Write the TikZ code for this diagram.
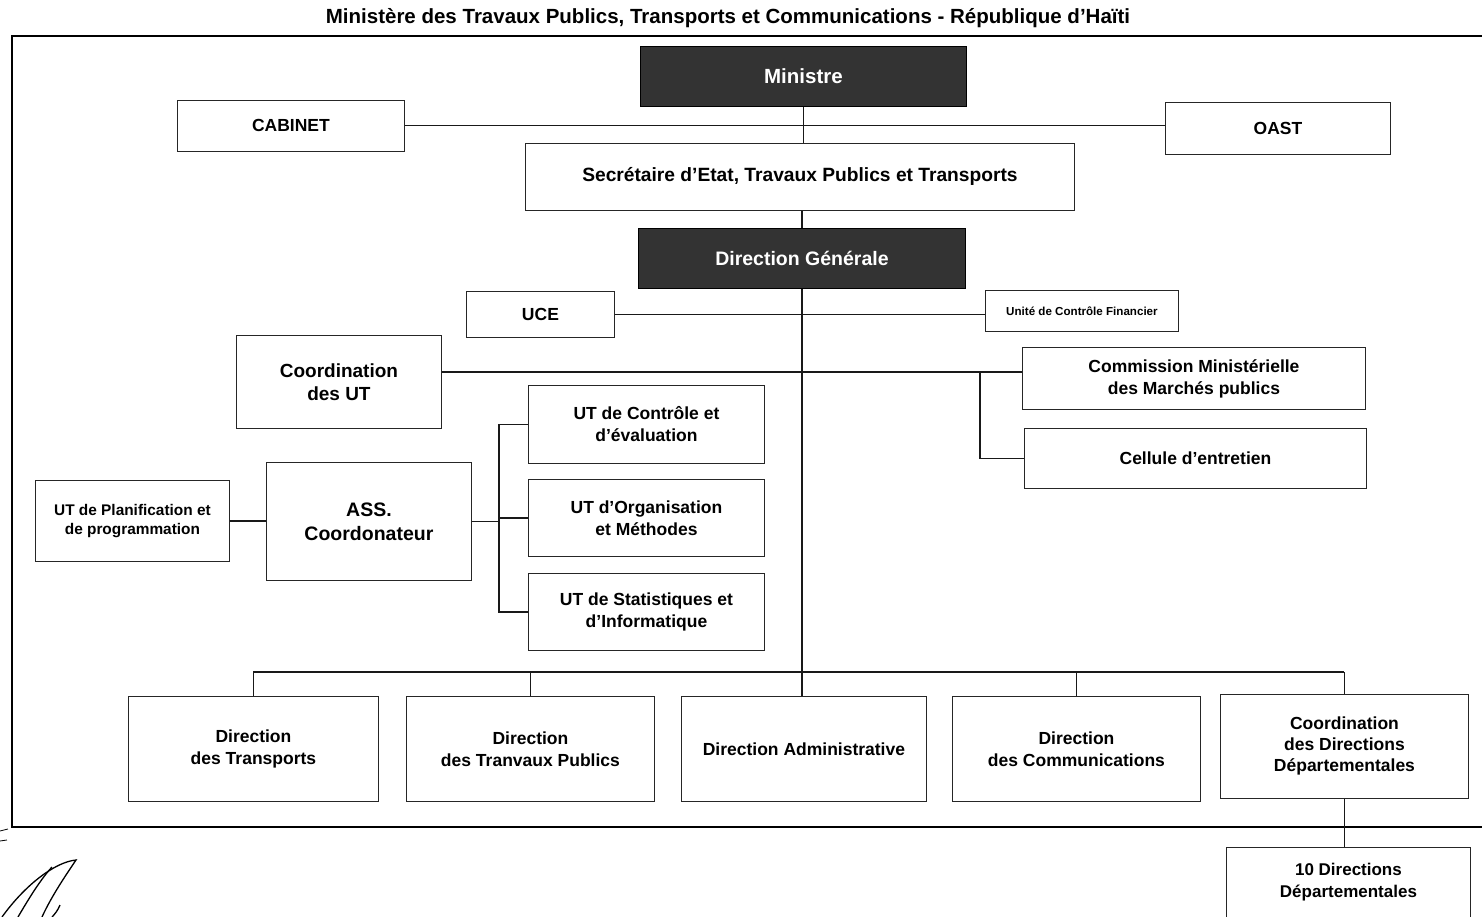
\documentclass[tikz,border=0pt]{standalone}
\usepackage{fontspec}
\setmainfont{Liberation Sans}
\begin{document}
\begin{tikzpicture}[x=1pt,y=-1pt,
  box/.style={draw=black!85, line width=0.9pt, inner sep=0pt, align=center, anchor=north west,
    font=\bfseries\fontsize{17.5}{22}\selectfont},
  dark/.style={box, fill=black!80, draw=black, text=white, font=\bfseries\fontsize{20}{22}\selectfont},
  ln/.style={draw=black!90, line width=1.1pt}]
\useasboundingbox (0,0) rectangle (1482,917);
% title and frame
\node[font=\bfseries\fontsize{20.5}{24}\selectfont] (title) at (728,18) {Ministère des Travaux Publics, Transports et Communications - République d’Haïti};
\draw[line width=1.6pt] (1495,36) -- (12,36) -- (12,827) -- (1495,827);
% boxes
\node[dark, minimum width=326, minimum height=60, font=\bfseries\fontsize{20.5}{22}\selectfont] (mini) at (640,46) {Ministre};
\node[box, minimum width=227, minimum height=51] (cab) at (177,100) {CABINET};
\node[box, minimum width=225, minimum height=52] (oast) at (1165,102) {OAST};
\node[box, minimum width=549, minimum height=67, font=\bfseries\fontsize{19.2}{22}\selectfont] (sec) at (525,143) {Secrétaire d’Etat, Travaux Publics et Transports};
\node[dark, minimum width=327, minimum height=60, font=\bfseries\fontsize{19.5}{22}\selectfont] (dg) at (638,228) {Direction Générale};
\node[box, minimum width=148, minimum height=46] (uce) at (466,291) {UCE};
\node[box, minimum width=193, minimum height=41, font=\bfseries\fontsize{11.6}{13}\selectfont] (ucf) at (985,290) {Unité de Contrôle Financier};
\node[box, minimum width=205, minimum height=93, font=\bfseries\fontsize{19}{23}\selectfont] (cut) at (236,335) {Coordination\\des UT};
\node[box, minimum width=343, minimum height=62] (cmm) at (1022,347) {Commission Ministérielle\\des Marchés publics};
\node[box, minimum width=342, minimum height=60] (cel) at (1024,428) {Cellule d’entretien};
\node[box, minimum width=236, minimum height=78] (utc) at (528,385) {UT de Contrôle et\\d’évaluation};
\node[box, minimum width=236, minimum height=77] (uto) at (528,479) {UT d’Organisation\\et Méthodes};
\node[box, minimum width=236, minimum height=77] (uts) at (528,573) {UT de Statistiques et\\d’Informatique};
\node[box, minimum width=205, minimum height=118, font=\bfseries\fontsize{19.5}{24}\selectfont] (ass) at (266,462) {ASS.\\Coordonateur};
\node[box, minimum width=194, minimum height=81, font=\bfseries\fontsize{15.4}{19}\selectfont] (utp) at (35,480) {UT de Planification et\\de programmation};
\node[box, minimum width=250, minimum height=105] (dt) at (128,696) {Direction\\des Transports};
\node[box, minimum width=248, minimum height=105] (dtp) at (406,696) {Direction\\des Tranvaux Publics};
\node[box, minimum width=245, minimum height=105] (da) at (681,696) {Direction Administrative};
\node[box, minimum width=248, minimum height=105] (dc) at (952,696) {Direction\\des Communications};
\node[box, minimum width=248, minimum height=104, font=\bfseries\fontsize{17.5}{21}\selectfont] (cdd) at (1220,694) {Coordination\\des Directions\\Départementales};
\node[box, minimum width=244, minimum height=70, font=\bfseries\fontsize{17}{22}\selectfont] (d10) at (1226,847) {10 Directions\\Départementales};
% connectors
\coordinate (h1) at (0,372);
\coordinate (br) at (980,372);
\coordinate (bus) at (499,0);
\coordinate (bb) at (0,672);
\draw[ln] (mini.south) -- (mini.south |- sec.north);
\draw[ln] (cab.east) -- (cab.east -| oast.west);
\draw[ln] (dg.north) -- (dg.north |- sec.south);
\draw[ln] (dg.south) -- (dg.south |- da.north);
\draw[ln] (uce.east) -- (uce.east -| ucf.west);
\draw[ln] (cut.east |- h1) -- (cmm.west |- h1);
\draw[ln] (br) -- (br |- cel.west) -- (cel.west);
\draw[ln] (ass.east) -- (ass.east -| bus);
\draw[ln] (utc.west) -- (utc.west -| bus) -- (uts.west -| bus) -- (uts.west);
\draw[ln] (uto.west) -- (uto.west -| bus);
\draw[ln] (utp.east) -- (utp.east -| ass.west);
\draw[ln] (dt.north |- bb) -- (cdd.north |- bb);
\foreach \n in {dt,dtp,dc,cdd} \draw[ln] (\n.north) -- (\n.north |- bb);
\draw[ln] (cdd.south) -- (cdd.south |- d10.north);
% margin marks and signature
\draw[line width=0.8pt] (0,831) -- (8,829);
\draw[line width=0.8pt] (0,841) -- (7,840);
\draw[line width=1.3pt] (2,917) .. controls (25,885) and (55,862) .. (76,860)
  .. controls (68,872) and (52,895) .. (42,917);
\draw[line width=1.3pt] (52,867) .. controls (40,880) and (28,900) .. (18,917);
\draw[line width=1.3pt] (60,905) .. controls (58,910) and (55,914) .. (52,917);
\end{tikzpicture}
\end{document}
